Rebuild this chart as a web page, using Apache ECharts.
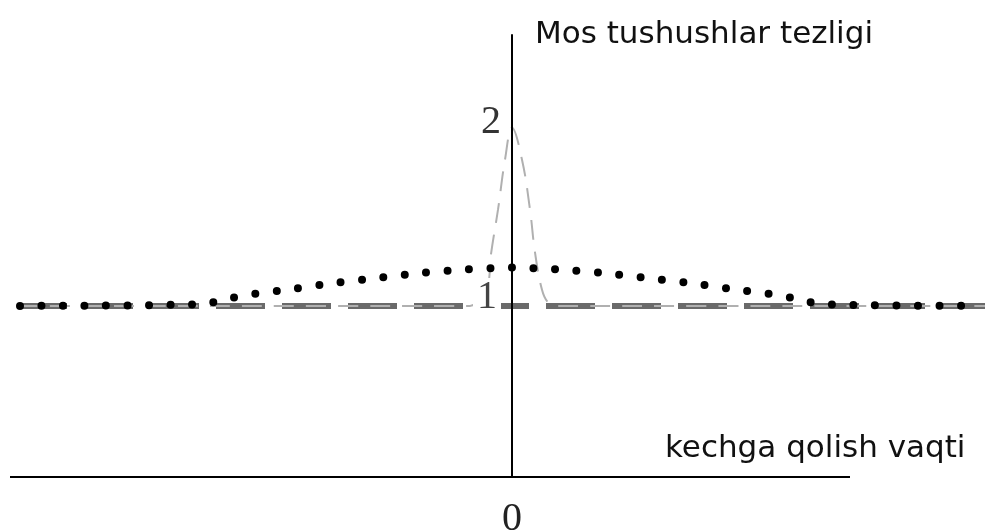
<!DOCTYPE html>
<html>
<head>
<meta charset="utf-8">
<script src="https://cdn.jsdelivr.net/npm/echarts@6/dist/echarts.min.js"></script>
<style>
  html, body { margin: 0; padding: 0; background: #fff; }
  #chart { width: 1001px; height: 532px; }
</style>
</head>
<body>
<div id="chart"></div>
<script>
// x in arbitrary time units, 0 = on time
const dotX = [-492, -310, -285, -260, -220, -175, -130, -90, -45, 0, 45, 90, 130, 175, 220, 260, 285, 310, 470]
const dotY = [1, 1.01, 1.04, 1.065, 1.095, 1.13, 1.16, 1.185, 1.205, 1.215, 1.205, 1.185, 1.16, 1.13, 1.095, 1.065, 1.04, 1.01, 1]

const peakX = [-494, -42, -35, -25, -21, -14, -7, 0, 10, 18, 23, 30, 36, 45, 473]
const peakY = [1, 1, 1.02, 1.09, 1.29, 1.54, 1.82, 2, 1.82, 1.54, 1.3, 1.09, 1.02, 1, 1]

const flatX = [-494, 473]
const flatY = [1, 1]

// the drawn x axis stops short of the data
const axisStart = -502
const axisEnd = 338

const yTicks = [1, 2]
const xTicks = [0]

const toPairs = (xs, ys) => xs.map((x, i) => [x, ys[i]])

const yMin = 0.04

const chart = echarts.init(document.getElementById('chart'))
chart.setOption({
    animation: false,
    title: [
        {
            text: 'Mos tushushlar tezligi',
            left: 535, top: 19, padding: 0,
            textStyle: { fontFamily: 'DejaVu Sans', fontSize: 31, fontWeight: 'normal', color: '#111' }
        },
        {
            text: 'kechga qolish vaqti',
            left: 665, top: 433, padding: 0,
            textStyle: { fontFamily: 'DejaVu Sans', fontSize: 31, fontWeight: 'normal', color: '#111' }
        }
    ],
    grid: { left: 10, right: 16, top: 35, bottom: 55, outerBoundsMode: 'none', containLabel: false },
    xAxis: {
        type: 'value',
        min: -502, max: 473,
        splitLine: { show: false },
        axisTick: { show: false },
        axisLine: { show: false },
        axisLabel: {
            customValues: xTicks,
            margin: 22,
            fontFamily: 'Liberation Serif', fontSize: 40, color: '#222'
        }
    },
    yAxis: {
        type: 'value',
        position: 'left',
        offset: -502,
        z: 5,
        min: yMin, max: 2.52,
        splitLine: { show: false },
        axisTick: { show: false },
        axisLine: { onZero: false, lineStyle: { color: '#000', width: 2 } },
        axisLabel: {
            customValues: yTicks,
            margin: 11,
            formatter: v => (v === 1 ? '{one|1}' : '{two|2}'),
            rich: {
                one: {
                    fontFamily: 'Liberation Serif', fontSize: 40, color: '#444',
                    backgroundColor: '#fff', padding: [0, 4, 16, 4]
                },
                two: { fontFamily: 'Liberation Serif', fontSize: 40, color: '#333', padding: [0, 0, 10, 0] }
            }
        }
    },
    series: [
        {
            type: 'line',
            data: toPairs(flatX, flatY),
            symbol: 'none',
            z: 2,
            lineStyle: { color: '#6a6a6a', width: 6, type: [49, 17] },
            markLine: {
                silent: true,
                symbol: 'none',
                label: { show: false },
                lineStyle: { color: '#000', width: 2, type: 'solid' },
                data: [[{ coord: [axisStart, yMin] }, { coord: [axisEnd, yMin] }]]
            }
        },
        {
            type: 'line',
            data: toPairs(peakX, peakY),
            symbol: 'none',
            smooth: 0.4,
            z: 3,
            lineStyle: { color: '#b0b0b0', width: 2, type: [20, 12] }
        },
        {
            type: 'line',
            data: toPairs(dotX, dotY),
            symbol: 'none',
            smooth: 0.3,
            z: 4,
            lineStyle: { color: '#000', width: 8, type: [0, 21.5], cap: 'round' }
        }
    ]
})
</script>
</body>
</html>
